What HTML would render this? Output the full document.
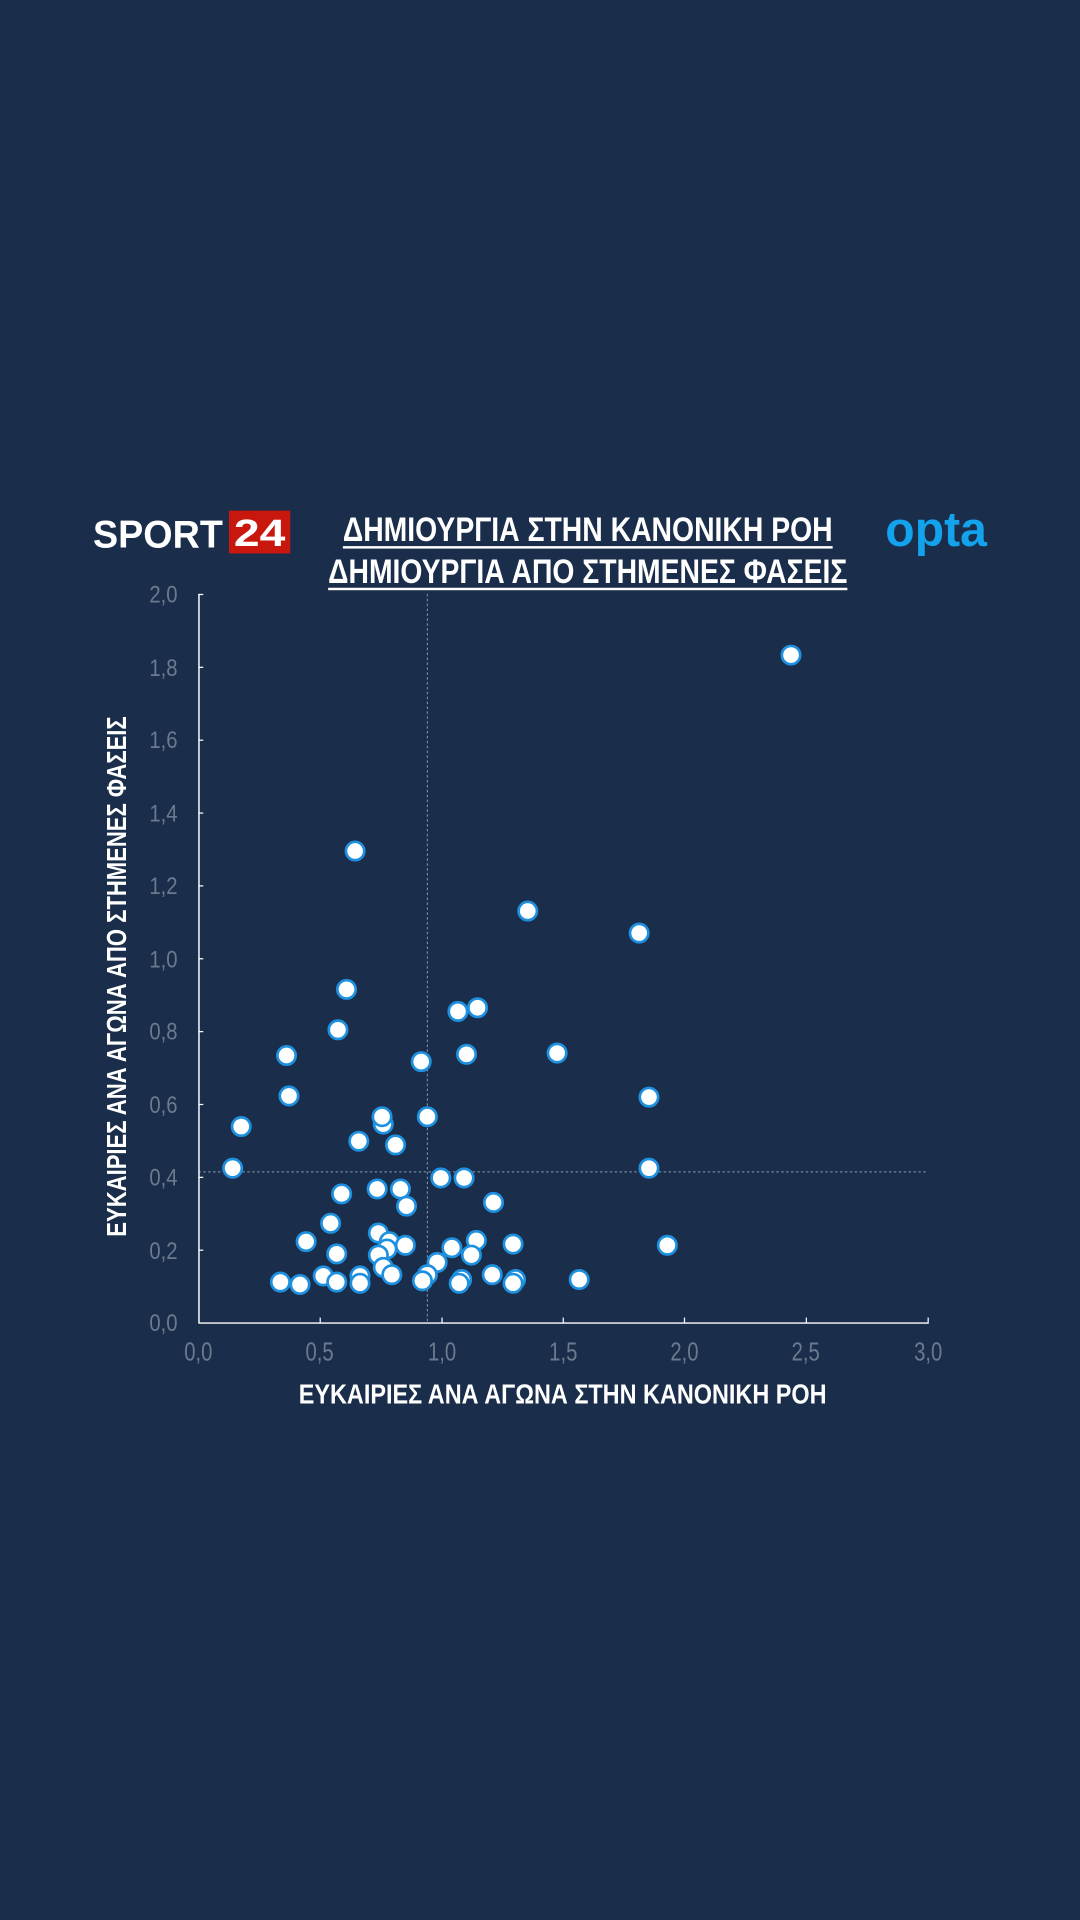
<!DOCTYPE html>
<html><head><meta charset="utf-8"><style>
html,body{margin:0;padding:0;background:#1a2e4b;}
svg{display:block}
text{font-family:"Liberation Sans","DejaVu Sans",sans-serif}
</style></head><body>
<svg width="1080" height="1920" viewBox="0 0 882 1568" xmlns="http://www.w3.org/2000/svg">
<rect width="882" height="1568" fill="#1a2e4b"/>
<text x="76" y="447" font-size="32" font-weight="bold" fill="#ffffff" font-family="Liberation Sans" textLength="106" lengthAdjust="spacingAndGlyphs">SPORT</text>
<rect x="187" y="417" width="50" height="35" fill="#c8170d"/>
<text x="191" y="446" font-size="31" font-weight="bold" fill="#ffffff" font-family="Liberation Sans" textLength="42" lengthAdjust="spacingAndGlyphs">24</text>
<text x="723" y="446" font-size="40" font-weight="bold" fill="#12a3ec" textLength="83" lengthAdjust="spacingAndGlyphs">opta</text>
<text x="280" y="442" font-size="28" font-weight="bold" fill="#ffffff" textLength="400" lengthAdjust="spacingAndGlyphs">ΔΗΜΙΟΥΡΓΙΑ ΣΤΗΝ ΚΑΝΟΝΙΚΗ ΡΟΗ</text>
<rect x="280" y="446" width="400" height="2" fill="#fff"/>
<text x="268" y="476" font-size="28" font-weight="bold" fill="#ffffff" textLength="424" lengthAdjust="spacingAndGlyphs">ΔΗΜΙΟΥΡΓΙΑ ΑΠΟ ΣΤΗΜΕΝΕΣ ΦΑΣΕΙΣ</text>
<rect x="268" y="480" width="424" height="2" fill="#fff"/>
<line x1="349" y1="485" x2="349" y2="1080" stroke="#8a9ab0" stroke-width="0.8" stroke-dasharray="2,2"/>
<line x1="162" y1="957" x2="758" y2="957" stroke="#8a9ab0" stroke-width="0.8" stroke-dasharray="2,2"/>
<line x1="162.5" y1="485" x2="162.5" y2="1080.5" stroke="#fff" stroke-width="1.2"/>
<line x1="162" y1="1080.5" x2="758.5" y2="1080.5" stroke="#fff" stroke-width="1.2"/>
<g stroke="#fff" stroke-width="1">
<line x1="162" y1="485.5" x2="166" y2="485.5"/><line x1="162" y1="545" x2="166" y2="545"/><line x1="162" y1="604.5" x2="166" y2="604.5"/><line x1="162" y1="664" x2="166" y2="664"/><line x1="162" y1="723.5" x2="166" y2="723.5"/><line x1="162" y1="783" x2="166" y2="783"/><line x1="162" y1="842.5" x2="166" y2="842.5"/><line x1="162" y1="902" x2="166" y2="902"/><line x1="162" y1="961.5" x2="166" y2="961.5"/><line x1="162" y1="1021" x2="166" y2="1021"/>
<line x1="261.5" y1="1076" x2="261.5" y2="1080"/><line x1="361" y1="1076" x2="361" y2="1080"/><line x1="460" y1="1076" x2="460" y2="1080"/><line x1="559" y1="1076" x2="559" y2="1080"/><line x1="658.5" y1="1076" x2="658.5" y2="1080"/><line x1="758" y1="1076" x2="758" y2="1080"/>
</g>
<g fill="#6b7a8f" font-size="20" text-anchor="end">
<text x="145" y="492" textLength="23" lengthAdjust="spacingAndGlyphs">2,0</text>
<text x="145" y="552" textLength="23" lengthAdjust="spacingAndGlyphs">1,8</text>
<text x="145" y="611" textLength="23" lengthAdjust="spacingAndGlyphs">1,6</text>
<text x="145" y="671" textLength="23" lengthAdjust="spacingAndGlyphs">1,4</text>
<text x="145" y="730" textLength="23" lengthAdjust="spacingAndGlyphs">1,2</text>
<text x="145" y="790" textLength="23" lengthAdjust="spacingAndGlyphs">1,0</text>
<text x="145" y="849" textLength="23" lengthAdjust="spacingAndGlyphs">0,8</text>
<text x="145" y="909" textLength="23" lengthAdjust="spacingAndGlyphs">0,6</text>
<text x="145" y="968" textLength="23" lengthAdjust="spacingAndGlyphs">0,4</text>
<text x="145" y="1028" textLength="23" lengthAdjust="spacingAndGlyphs">0,2</text>
<text x="145" y="1087" textLength="23" lengthAdjust="spacingAndGlyphs">0,0</text>
</g>
<g fill="#6b7a8f" font-size="21">
<text x="150.5" y="1111" textLength="23" lengthAdjust="spacingAndGlyphs">0,0</text>
<text x="249.5" y="1111" textLength="23" lengthAdjust="spacingAndGlyphs">0,5</text>
<text x="349.5" y="1111" textLength="23" lengthAdjust="spacingAndGlyphs">1,0</text>
<text x="448.5" y="1111" textLength="23" lengthAdjust="spacingAndGlyphs">1,5</text>
<text x="547.5" y="1111" textLength="23" lengthAdjust="spacingAndGlyphs">2,0</text>
<text x="646.5" y="1111" textLength="23" lengthAdjust="spacingAndGlyphs">2,5</text>
<text x="746.5" y="1111" textLength="23" lengthAdjust="spacingAndGlyphs">3,0</text>
</g>
<text x="244" y="1146" font-size="23" font-weight="bold" fill="#fff" textLength="431" lengthAdjust="spacingAndGlyphs">ΕΥΚΑΙΡΙΕΣ ΑΝΑ ΑΓΩΝΑ ΣΤΗΝ ΚΑΝΟΝΙΚΗ ΡΟΗ</text>
<text transform="translate(103,1010) rotate(-90)" font-size="23" font-weight="bold" fill="#fff" textLength="425" lengthAdjust="spacingAndGlyphs">ΕΥΚΑΙΡΙΕΣ ΑΝΑ ΑΓΩΝΑ ΑΠΟ ΣΤΗΜΕΝΕΣ ΦΑΣΕΙΣ</text>
<g fill="#ffffff" stroke="#1e90e0" stroke-width="2.2">
<circle cx="646" cy="535" r="7.5"/><circle cx="290" cy="695" r="7.5"/><circle cx="431" cy="744" r="7.5"/><circle cx="522" cy="762" r="7.5"/><circle cx="283" cy="808" r="7.5"/><circle cx="374" cy="826" r="7.5"/><circle cx="390" cy="823" r="7.5"/><circle cx="276" cy="841" r="7.5"/><circle cx="234" cy="862" r="7.5"/><circle cx="381" cy="861" r="7.5"/><circle cx="455" cy="860" r="7.5"/><circle cx="344" cy="867" r="7.5"/><circle cx="236" cy="895" r="7.5"/><circle cx="530" cy="896" r="7.5"/><circle cx="197" cy="920" r="7.5"/><circle cx="313" cy="918" r="7.5"/><circle cx="312" cy="912" r="7.5"/><circle cx="349" cy="912" r="7.5"/><circle cx="293" cy="932" r="7.5"/><circle cx="323" cy="935" r="7.5"/><circle cx="190" cy="954" r="7.5"/><circle cx="530" cy="954" r="7.5"/><circle cx="279" cy="975" r="7.5"/><circle cx="360" cy="962" r="7.5"/><circle cx="379" cy="962" r="7.5"/><circle cx="308" cy="971" r="7.5"/><circle cx="327" cy="971" r="7.5"/><circle cx="403" cy="982" r="7.5"/><circle cx="332" cy="985" r="7.5"/><circle cx="270" cy="999" r="7.5"/><circle cx="250" cy="1014" r="7.5"/><circle cx="309" cy="1007" r="7.5"/><circle cx="318" cy="1014" r="7.5"/><circle cx="331" cy="1017" r="7.5"/><circle cx="369" cy="1019" r="7.5"/><circle cx="389" cy="1013" r="7.5"/><circle cx="419" cy="1016" r="7.5"/><circle cx="545" cy="1017" r="7.5"/><circle cx="316" cy="1020" r="7.5"/><circle cx="275" cy="1024" r="7.5"/><circle cx="309" cy="1025" r="7.5"/><circle cx="385" cy="1025" r="7.5"/><circle cx="357" cy="1031" r="7.5"/><circle cx="313" cy="1035" r="7.5"/><circle cx="320" cy="1041" r="7.5"/><circle cx="264" cy="1042" r="7.5"/><circle cx="294" cy="1042" r="7.5"/><circle cx="402" cy="1041" r="7.5"/><circle cx="349" cy="1041" r="7.5"/><circle cx="229" cy="1047" r="7.5"/><circle cx="245" cy="1049" r="7.5"/><circle cx="275" cy="1047" r="7.5"/><circle cx="294" cy="1048" r="7.5"/><circle cx="345" cy="1046" r="7.5"/><circle cx="377" cy="1045" r="7.5"/><circle cx="375" cy="1048" r="7.5"/><circle cx="421" cy="1045" r="7.5"/><circle cx="419" cy="1048" r="7.5"/><circle cx="473" cy="1045" r="7.5"/>
</g>
</svg>
</body></html>
